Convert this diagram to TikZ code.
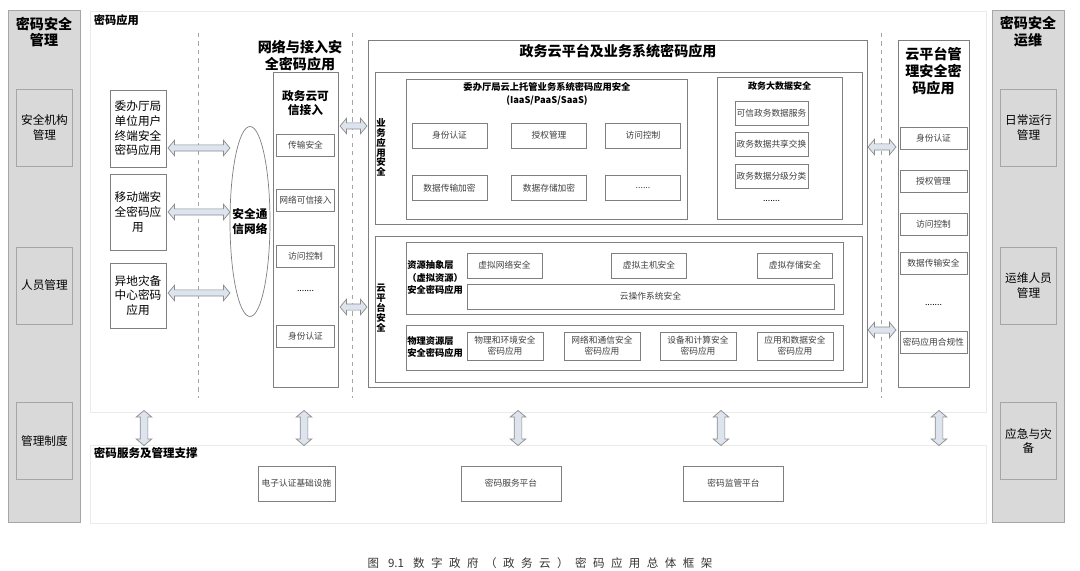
\documentclass[tikz,border=0pt]{standalone}
\usepackage{fontspec}
\setmainfont{Noto Sans CJK SC}
\newfontfamily\capfont[LetterSpace=56]{Noto Sans CJK SC}
\newfontfamily\capplain{Noto Sans CJK SC}
\usetikzlibrary{shapes.geometric, shapes.arrows}
\definecolor{panelgray}{HTML}{D9D9D9}
\definecolor{panelline}{HTML}{A6A6A6}
\definecolor{boxline}{HTML}{7F7F7F}
\definecolor{itemtext}{HTML}{404040}
\definecolor{arrowfill}{HTML}{DDE4EE}
\definecolor{arrowline}{HTML}{8C8C8C}
\newcommand{\pxu}{0.025cm}
\newcommand{\tfont}{\bfseries\fontsize{10}{12}\selectfont}
\newcommand{\mfont}{\fontsize{8.3}{10.4}\selectfont}
\newcommand{\sfont}{\fontsize{6.2}{7.8}\selectfont}
\tikzset{
  panel/.style={rectangle,draw=panelline,fill=panelgray,line width=0.6pt},
  pbox/.style={rectangle,draw=panelline,fill=panelgray,line width=0.6pt,align=center,font=\mfont,minimum width=55*\pxu,minimum height=77*\pxu},
  frame/.style={rectangle,draw=boxline,line width=0.5pt,fill=white},
  ubox/.style={frame,align=center,font=\mfont,minimum width=56*\pxu},
  item/.style={frame,align=center,font=\sfont,text=itemtext,inner sep=0pt},
  litem/.style={item,minimum width=58*\pxu,minimum height=22*\pxu},
  hitem/.style={item,minimum width=75*\pxu,minimum height=25*\pxu},
  ditem/.style={item,minimum width=73*\pxu,minimum height=24*\pxu},
  pitem/.style={item,minimum width=76*\pxu,minimum height=28*\pxu},
  ritem/.style={item,minimum width=67*\pxu,minimum height=22*\pxu},
  bitem/.style={item,minimum width=100*\pxu,minimum height=35*\pxu},
  title/.style={align=center,font=\tfont},
  label/.style={align=center,font=\bfseries\fontsize{6.6}{8.8}\selectfont},
  vlabel/.style={align=center,inner sep=0pt,font=\bfseries\fontsize{6.7}{7}\selectfont},
  region/.style={draw=black!8,line width=0.4pt},
  sep/.style={draw=black!35,dashed,line width=0.4pt},
  fatarrow/.style={double arrow,draw=arrowline,fill=arrowfill,line width=0.5pt,double arrow tip angle=100,double arrow head extend=4.75*\pxu,minimum width=15*\pxu,inner xsep=0pt,inner ysep=2.75*\pxu}
}

\begin{document}
\begin{tikzpicture}[x=0.025cm, y=-0.025cm]
\useasboundingbox (0,0) rectangle (1080,571);

% side panels
\node[panel, minimum width=72*\pxu, minimum height=512*\pxu] (mgmt) at (44,266) {};
\node[title] (mgmtT) at (44,32) {密码安全\\管理};
\node[pbox] (org) at (44.5,127.5) {安全机构\\管理};
\node[pbox] (staff) at (44.5,285.5) {人员管理};
\node[pbox] (rules) at (44.5,441) {管理制度};

\node[panel, minimum width=72*\pxu, minimum height=512*\pxu] (ops) at (1028,266) {};
\node[title] (opsT) at (1028,32) {密码安全\\运维};
\node[pbox] (daily) at (1028.5,127.5) {日常运行\\管理};
\node[pbox] (opstaff) at (1028.5,285.5) {运维人员\\管理};
\node[pbox] (backup) at (1028.5,441) {应急与灾\\备};

% regions
\draw[region] (90,11) rectangle (986,412);
\draw[region] (90,445) rectangle (986,523);
\node[anchor=west, font=\bfseries\fontsize{8}{10}\selectfont] (appT) at (89,20) {密码应用};
\node[anchor=west, font=\bfseries\fontsize{8.2}{10}\selectfont] (supT) at (89,453) {密码服务及管理支撑};
\draw[sep] (198,33) -- (198,398);
\draw[sep] (352,33) -- (352,398);
\draw[sep] (881,33) -- (881,398);

% terminals
\node[ubox, minimum height=77*\pxu] (u1) at (138,128.5) {委办厅局\\单位用户\\终端安全\\密码应用};
\node[ubox, minimum height=76*\pxu] (u2) at (138,212) {移动端安\\全密码应\\用};
\node[ubox, minimum height=65*\pxu] (u3) at (138,295.5) {异地灾备\\中心密码\\应用};
\node[ellipse, draw=boxline, line width=0.5pt, minimum width=40*\pxu, minimum height=190*\pxu, inner sep=0pt] (net) at (250,221.5) {};
\node[align=center, inner sep=0pt, font=\bfseries\mfont] (netT) at (net) {安全通\\信网络};

% network access
\node[title] (accT) at (300,56) {网络与接入安\\全密码应用};
\node[frame, minimum width=65*\pxu, minimum height=315*\pxu] (acc) at (305.5,229.5) {};
\node[align=center, font=\bfseries\mfont] (accH) at (305.5,103) {政务云可\\信接入};
\node[litem] (a1) at (305.5,145) {传输安全};
\node[litem] (a2) at (305.5,200.5) {网络可信接入};
\node[litem] (a3) at (305.5,256) {访问控制};
\node[font=\sfont] (a4) at (305.5,291) {.......};
\node[litem] (a5) at (305.5,336) {身份认证};

% cloud platform and business systems
\node[frame, minimum width=499*\pxu, minimum height=347*\pxu] (cloud) at (617.5,213.5) {};
\node[title] (cloudT) at (618,51) {政务云平台及业务系统密码应用};
\node[frame, minimum width=487*\pxu, minimum height=152*\pxu] (biz) at (618.5,148) {};
\node[vlabel] (bizT) at (381,147.5) {业\\务\\应\\用\\安\\全};
\node[frame, minimum width=281*\pxu, minimum height=140*\pxu] (host) at (546.5,149) {};
\node[label] (hostT) at (547,94) {委办厅局云上托管业务系统密码应用安全\\(IaaS/PaaS/SaaS)};
\node[hitem] (h1) at (449.5,135.5) {身份认证};
\node[hitem] (h2) at (549,135.5) {授权管理};
\node[hitem] (h3) at (643,135.5) {访问控制};
\node[hitem] (h4) at (449.5,188) {数据传输加密};
\node[hitem] (h5) at (549,188) {数据存储加密};
\node[hitem] (h6) at (643,188) {......};
\node[frame, minimum width=125*\pxu, minimum height=142*\pxu] (data) at (779.5,148) {};
\node[label, font=\bfseries\fontsize{6.4}{8}\selectfont] (dataT) at (779.5,86) {政务大数据安全};
\node[ditem] (d1) at (771.5,113) {可信政务数据服务};
\node[ditem] (d2) at (771.5,144) {政务数据共享交换};
\node[ditem] (d3) at (771.5,176) {政务数据分级分类};
\node[font=\sfont] (d4) at (771.5,201) {.......};

\node[frame, minimum width=487*\pxu, minimum height=146*\pxu] (plat) at (618.5,309) {};
\node[vlabel] (platT) at (381,308) {云\\平\\台\\安\\全};
\node[frame, minimum width=437*\pxu, minimum height=72*\pxu] (virt) at (624.5,278) {};
\node[label, align=left, anchor=west, inner sep=0pt] (virtT) at (407,277.5) {资源抽象层\\（虚拟资源）\\安全密码应用};
\node[hitem] (v1) at (504.5,265.5) {虚拟网络安全};
\node[hitem] (v2) at (649,265.5) {虚拟主机安全};
\node[hitem] (v3) at (795,265.5) {虚拟存储安全};
\node[item, minimum width=367*\pxu, minimum height=25*\pxu] (v4) at (650.5,296.5) {云操作系统安全};
\node[frame, minimum width=437*\pxu, minimum height=45*\pxu] (phys) at (624.5,347.5) {};
\node[label, align=left, anchor=west, inner sep=0pt] (physT) at (407,347) {物理资源层\\安全密码应用};
\node[pitem] (p1) at (505,346) {物理和环境安全\\密码应用};
\node[pitem] (p2) at (602,346) {网络和通信安全\\密码应用};
\node[pitem] (p3) at (698,346) {设备和计算安全\\密码应用};
\node[pitem] (p4) at (795,346) {应用和数据安全\\密码应用};

% cloud management
\node[frame, minimum width=71*\pxu, minimum height=347*\pxu] (cman) at (933.5,213.5) {};
\node[title, font=\bfseries\fontsize{10}{12.4}\selectfont] (cmanT) at (933.5,71) {云平台管\\理安全密\\码应用};
\node[ritem] (c1) at (933.5,138) {身份认证};
\node[ritem] (c2) at (933.5,181) {授权管理};
\node[ritem] (c3) at (933.5,224) {访问控制};
\node[ritem] (c4) at (933.5,263) {数据传输安全};
\node[font=\sfont] (c5) at (933.5,305) {.......};
\node[ritem] (c6) at (933.5,342) {密码应用合规性};

% support services
\node[item, minimum width=77*\pxu, minimum height=35*\pxu] (eca) at (296.5,483.5) {电子认证基础设施};
\node[bitem] (srv) at (511,483.5) {密码服务平台};
\node[bitem] (sup) at (733.5,483.5) {密码监管平台};

% fat arrows
\node[fatarrow, minimum height=62*\pxu] (ar1) at (199,148) {};
\node[fatarrow, minimum height=62*\pxu] (ar2) at (199,212) {};
\node[fatarrow, minimum height=62*\pxu] (ar3) at (199,293) {};
\node[fatarrow, minimum height=27*\pxu] (ar4) at (353.5,126) {};
\node[fatarrow, minimum height=27*\pxu] (ar5) at (353.5,307) {};
\node[fatarrow, minimum height=28*\pxu] (ar6) at (882,147) {};
\node[fatarrow, minimum height=28*\pxu] (ar7) at (882,330) {};
\foreach \x/\n in {144/v1,304/v2,518/v3,721/v4,939/v5}
  \node[fatarrow, minimum height=35*\pxu, inner ysep=3.5*\pxu, double arrow head extend=4*\pxu, rotate=90] (ar\n) at (\x,428) {};

\node[font=\capfont\fontsize{8.2}{10}\selectfont, text=black!80] (cap) at (540,563) {图 {\capplain 9.1} 数字政府（政务云）密码应用总体框架};
\end{tikzpicture}
\end{document}
